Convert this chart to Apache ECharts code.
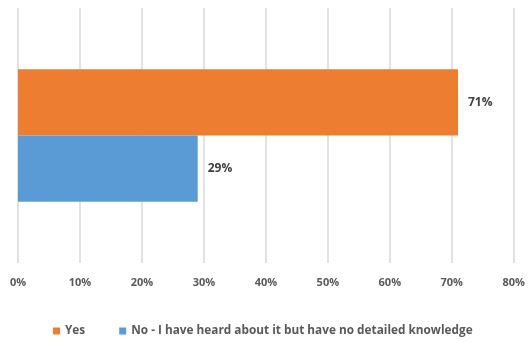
<!DOCTYPE html>
<html>
<head>
<meta charset="utf-8">
<script src="https://cdn.jsdelivr.net/npm/echarts@6/dist/echarts.min.js"></script>
<style>
  html, body { margin: 0; padding: 0; background: #fff; }
  #chart { width: 528px; height: 342px; }
</style>
</head>
<body>
<div id="chart"></div>
<script>
// Share of respondents, in percent
const categories = ['Response'];
const yesValues = [71];
const noValues = [29];
const seriesNames = ['Yes', 'No - I have heard about it but have no detailed knowledge'];
const xTicks = { min: 0, max: 80, interval: 10 };

const textColor = '#595959';
const fontFamily = '"Open Sans", Lato, sans-serif';

const chart = echarts.init(document.getElementById('chart'), null, { renderer: 'canvas' });

const labelStyle = {
  show: true,
  position: 'right',
  distance: 10,
  color: '#404040',
  fontFamily: fontFamily,
  fontWeight: 'bold',
  fontSize: 12,
  formatter: p => p.value + '%'
};

chart.setOption({
  animation: false,
  backgroundColor: '#ffffff',
  grid: { left: 18, right: 10, top: 8, bottom: 79, containLabel: false },
  legend: {
    bottom: 0,
    left: 48,
    itemWidth: 7,
    itemHeight: 7,
    itemGap: 34,
    icon: 'rect',
    textStyle: { color: textColor, fontFamily: fontFamily, fontWeight: 'bold', fontSize: 11.8 },
    data: seriesNames
  },
  xAxis: {
    type: 'value',
    min: xTicks.min,
    max: xTicks.max,
    interval: xTicks.interval,
    axisLine: { show: false },
    axisTick: { show: false },
    splitLine: { show: true, lineStyle: { color: '#d9d9d9', width: 1.5 } },
    axisLabel: {
      color: textColor,
      fontFamily: fontFamily,
      fontWeight: 'bold',
      fontSize: 11,
      margin: 14,
      formatter: v => v + '%'
    }
  },
  yAxis: {
    type: 'category',
    data: categories,
    inverse: true,
    axisLine: { show: false },
    axisTick: { show: false },
    axisLabel: { show: false }
  },
  series: [
    {
      name: seriesNames[0],
      type: 'bar',
      data: yesValues,
      itemStyle: { color: '#ED7D31' },
      barGap: '0%',
      barCategoryGap: '48%',
      label: labelStyle
    },
    {
      name: seriesNames[1],
      type: 'bar',
      data: noValues,
      itemStyle: { color: '#5B9BD5' },
      barGap: '0%',
      barCategoryGap: '48%',
      label: labelStyle
    }
  ]
});
</script>
</body>
</html>
